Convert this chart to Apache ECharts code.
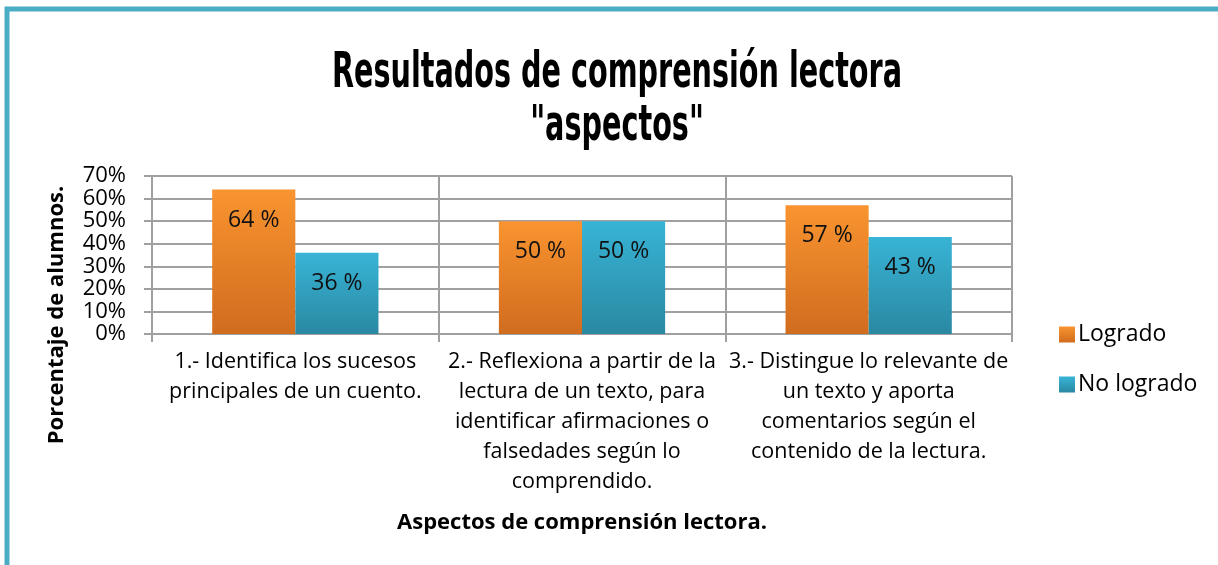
<!DOCTYPE html>
<html><head><meta charset="utf-8">
<script src="https://cdn.jsdelivr.net/npm/echarts@6/dist/echarts.min.js"></script>
<style>html,body{margin:0;padding:0;background:#fff}#c{width:1218px;height:565px}</style>
</head><body><div id="c"></div>
<script>
const categories = [
  "1.- Identifica los sucesos\nprincipales de un cuento.",
  "2.- Reflexiona a partir de la\nlectura de un texto, para\nidentificar afirmaciones o\nfalsedades según lo\ncomprendido.",
  "3.- Distingue lo relevante de\nun texto y aporta\ncomentarios según el\ncontenido de la lectura."
];
const logrado = [0.64, 0.50, 0.57];
const noLogrado = [0.36, 0.50, 0.43];
const yTicks = [0, 0.1, 0.2, 0.3, 0.4, 0.5, 0.6, 0.7];
const titleLines = ['Resultados de comprensión lectora', '"aspectos"'];

const chart = echarts.init(document.getElementById('c'), null, {renderer: 'canvas'});
const grad = (a, b) => new echarts.graphic.LinearGradient(0, 0, 0, 1, [{offset: 0, color: a}, {offset: 1, color: b}]);
const lbl = {
  show: true, position: 'insideTop', distance: 19,
  fontFamily: 'Open Sans', fontSize: 23, color: '#111',
  formatter: p => Math.round(p.value * 100) + ' %'
};
const titleFont = 'bold 49px "DejaVu Sans Condensed"';
chart.setOption({
  animation: false,
  graphic: [
    {type: 'rect', shape: {x: 7, y: 9, width: 1260, height: 620},
     style: {fill: 'none', stroke: '#4BACC6', lineWidth: 5}, silent: true},
    {type: 'text', x: 617, y: 50, scaleX: 0.65, silent: true,
     style: {text: titleLines[0], font: titleFont, fill: '#000', textAlign: 'center'}},
    {type: 'text', x: 617, y: 103, scaleX: 0.65, silent: true,
     style: {text: titleLines[1], font: titleFont, fill: '#000', textAlign: 'center'}}
  ],
  legend: {
    orient: 'vertical', left: 1054, top: 318, itemGap: 27,
    itemWidth: 16, itemHeight: 16, icon: 'rect',
    textStyle: {fontFamily: 'Open Sans', fontSize: 23, color: '#000', padding: [0, 0, 0, -2]},
    data: ['Logrado', 'No logrado']
  },
  grid: {left: 152, right: 206, top: 176, bottom: 231, containLabel: false},
  xAxis: {
    type: 'category', data: categories,
    name: 'Aspectos de comprensión lectora.', nameLocation: 'middle', nameGap: 178,
    nameTextStyle: {fontFamily: 'Open Sans', fontWeight: 'bold', fontSize: 22, color: '#000'},
    axisLine: {show: true, lineStyle: {color: '#a0a0a0', width: 2}},
    axisTick: {show: true, length: 8, lineStyle: {color: '#a0a0a0', width: 2}},
    splitLine: {show: true, lineStyle: {color: '#a0a0a0', width: 2}},
    axisLabel: {fontFamily: 'Open Sans', fontSize: 21.5, lineHeight: 30, color: '#000', margin: 13, interval: 0}
  },
  yAxis: {
    type: 'value', min: 0, max: 0.7, interval: 0.1,
    name: 'Porcentaje de alumnos.', nameLocation: 'middle', nameGap: 84, nameRotate: 90,
    nameTextStyle: {fontFamily: 'Open Sans', fontWeight: 'bold', fontSize: 22, color: '#000', padding: [0, 120, 0, 0]},
    axisLine: {show: true, lineStyle: {color: '#a0a0a0', width: 2}},
    axisTick: {show: true, length: 8, lineStyle: {color: '#a0a0a0', width: 2}},
    splitLine: {show: true, lineStyle: {color: '#a0a0a0', width: 2}},
    axisLabel: {fontFamily: 'Open Sans', fontSize: 22, color: '#000', margin: 26,
      formatter: v => Math.round(v * 100) + '%'}
  },
  series: [
    {name: 'Logrado', type: 'bar', data: logrado, barGap: '0%', barCategoryGap: '42%',
     itemStyle: {color: grad('#F99430', '#D06C1E')}, label: lbl},
    {name: 'No logrado', type: 'bar', data: noLogrado,
     itemStyle: {color: grad('#38B4D6', '#2A88A2')}, label: lbl}
  ]
});
</script></body></html>
